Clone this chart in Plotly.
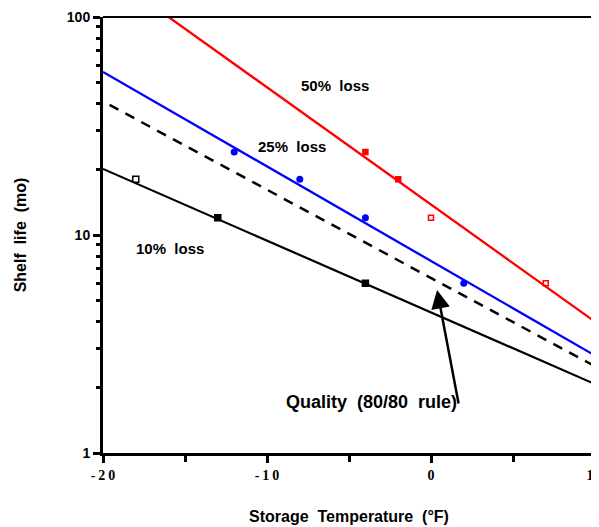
import plotly.graph_objects as go

# Data points (Storage temperature °F, shelf life months)
loss10_x = [-18, -13, -4]
loss10_y = [18, 12, 6]
loss25_x = [-12, -8, -4, 2]
loss25_y = [24, 18, 12, 6]
loss50_x = [-4, -2, 0, 7]
loss50_y = [24, 18, 12, 6]

# Fitted lines (endpoints)
fit10_x = [-20, 10]
fit10_y = [20.1, 2.07]
fit25_x = [-20, 10]
fit25_y = [56, 2.8]
fit50_x = [-16, 10]
fit50_y = [100, 4.0]
quality_x = [-19.6, 10]
quality_y = [39.5, 2.5]

x_ticks = [-20, -10, 0, 10]
x_tick_text = ["-\u20092\u20090", "-\u20091\u20090", "0", "1\u20090"]
y_ticks = [1, 10, 100]
y_minor = [2, 3, 4, 5, 6, 7, 8, 9, 20, 30, 40, 50, 60, 70, 80, 90]

SANS = "Liberation Sans, Arial, sans-serif"
SERIF = "Liberation Serif, Times New Roman, serif"

fig = go.Figure()

fig.add_trace(go.Scatter(x=fit50_x, y=fit50_y, mode="lines",
                         line=dict(color="#ff0000", width=2.3), showlegend=False))
fig.add_trace(go.Scatter(x=fit25_x, y=fit25_y, mode="lines",
                         line=dict(color="#0000ff", width=2.3), showlegend=False))
fig.add_trace(go.Scatter(x=quality_x, y=quality_y, mode="lines",
                         line=dict(color="black", width=2.5, dash="10px,8px"), showlegend=False))
fig.add_trace(go.Scatter(x=fit10_x, y=fit10_y, mode="lines",
                         line=dict(color="black", width=2.2), showlegend=False))

# markers
fig.add_trace(go.Scatter(x=loss10_x, y=loss10_y, mode="markers", showlegend=False,
                         marker=dict(symbol=["square-open", "square", "square"], size=6,
                                     color="black", line=dict(color="black", width=1.5))))
fig.add_trace(go.Scatter(x=loss25_x, y=loss25_y, mode="markers", showlegend=False,
                         marker=dict(symbol="circle", size=7, color="#0000ff")))
fig.add_trace(go.Scatter(x=loss50_x, y=loss50_y, mode="markers", showlegend=False,
                         marker=dict(symbol=["square", "square", "square-open", "square-open"], size=5,
                                     color="#ff0000", line=dict(color="#ff0000", width=1.5))))

# annotation positions on log axis are in log10 units
annots = [
    dict(x=-5.85, y=1.688, text="50%  loss"),
    dict(x=-8.5, y=1.408, text="25%  loss"),
    dict(x=-15.9, y=0.94, text="10%  loss"),
]
for a in annots:
    fig.add_annotation(x=a["x"], y=a["y"], xref="x", yref="y", text=a["text"], showarrow=False,
                       font=dict(family=SANS, size=15, color="black", weight="bold"))

fig.add_annotation(x=-3.6, y=0.234, xref="x", yref="y", text="Quality  (80/80  rule)",
                   showarrow=False,
                   font=dict(family=SANS, size=18, color="black", weight="bold"))

# arrow
fig.add_annotation(x=0.37, y=0.748, ax=1.7, ay=0.22,
                   axref="x", ayref="y", xref="x", yref="y", text="",
                   showarrow=True, arrowhead=2, arrowsize=1.5, arrowwidth=2.5,
                   arrowcolor="black")

# top and right borders
fig.add_shape(type="line", xref="paper", yref="paper", x0=0, x1=1, y0=1, y1=1,
              line=dict(color="black", width=2))
fig.add_shape(type="line", xref="paper", yref="paper", x0=1, x1=1, y0=0, y1=1,
              line=dict(color="black", width=2))

fig.update_xaxes(range=[-20, 10], tickmode="array", tickvals=x_ticks, ticktext=x_tick_text,
                 ticks="outside", ticklen=7, tickwidth=3, tickcolor="black",
                 showline=True, linewidth=3, linecolor="black", showgrid=False, zeroline=False,
                 automargin=False,
                 tickfont=dict(family=SERIF, size=14, color="black", weight="bold"),
                 minor=dict(tickvals=[-15, -5, 5], ticks="outside", ticklen=6, tickwidth=3,
                            tickcolor="black", showgrid=False),
                 title=dict(text="Storage  Temperature  (°F)", standoff=30,
                            font=dict(family=SANS, size=16, color="black", weight="bold")))
fig.update_yaxes(type="log", range=[0, 2], tickmode="array", tickvals=y_ticks,
                 ticks="outside", ticklen=7, tickwidth=3, tickcolor="black",
                 showline=True, linewidth=3, linecolor="black", showgrid=False, zeroline=False,
                 automargin=False,
                 tickfont=dict(family=SANS, size=14, color="black", weight="bold"),
                 minor=dict(tickvals=y_minor, ticks="outside", ticklen=4, tickwidth=3,
                            tickcolor="black", showgrid=False),
                 title=dict(text="Shelf  life  (mo)", standoff=37,
                            font=dict(family=SANS, size=16, color="black", weight="bold")))

# the page body adds an 8px offset, so margins are shifted accordingly
fig.update_layout(width=599, height=527, margin=dict(l=95, r=12, t=9, b=82),
                  plot_bgcolor="white", paper_bgcolor="white")

fig.write_html("out.html")
